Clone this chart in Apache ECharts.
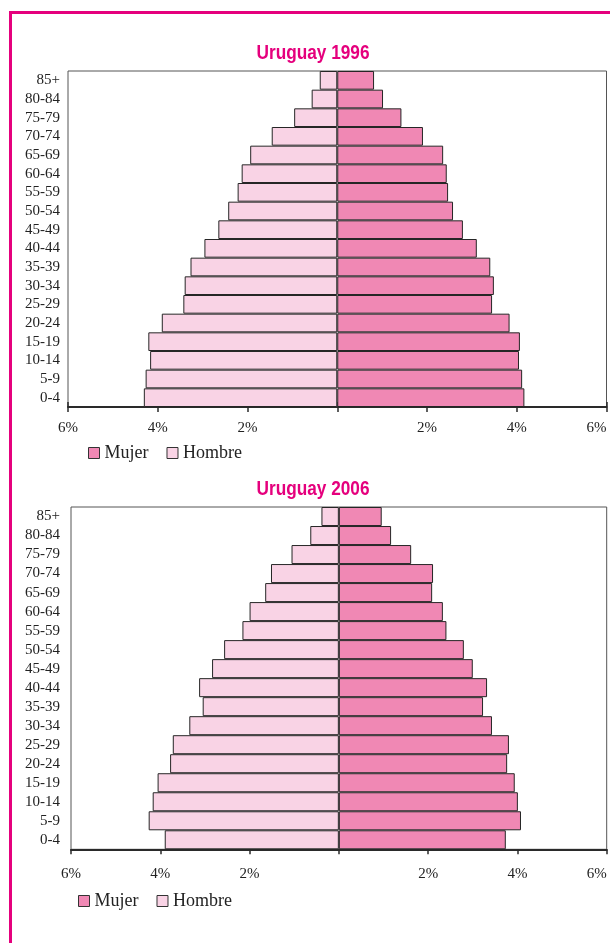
<!DOCTYPE html>
<html>
<head>
<meta charset="utf-8">
<script src="https://cdn.jsdelivr.net/npm/echarts@6/dist/echarts.min.js"></script>
<style>
html,body{margin:0;padding:0;background:#fff;}
#chart{width:610px;height:943px;}
</style>
</head>
<body>
<div id="chart"></div>
<script>
const categories = ['0-4','5-9','10-14','15-19','20-24','25-29','30-34','35-39','40-44','45-49','50-54','55-59','60-64','65-69','70-74','75-79','80-84','85+'];
const hombre1996 = [4.31,4.27,4.17,4.21,3.91,3.43,3.40,3.27,2.96,2.65,2.43,2.22,2.13,1.94,1.46,0.96,0.57,0.39];
const mujer1996  = [4.17,4.12,4.05,4.07,3.84,3.45,3.49,3.41,3.11,2.80,2.58,2.47,2.44,2.36,1.91,1.43,1.02,0.82];
const hombre2006 = [3.90,4.26,4.17,4.06,3.78,3.72,3.35,3.05,3.13,2.84,2.57,2.16,2.00,1.65,1.52,1.06,0.64,0.39];
const mujer2006  = [3.74,4.08,4.01,3.94,3.77,3.81,3.43,3.23,3.32,3.00,2.80,2.41,2.33,2.09,2.11,1.62,1.17,0.96];
const titles = ['Uruguay 1996','Uruguay 2006'];
const seriesNames = ['Mujer','Hombre'];

const MUJER = '#F088B4', HOMBRE = '#F9D3E5', EDGE = '#262626', MAGENTA = '#E5007D';
const serif = '"Liberation Serif", "DejaVu Serif", serif';
const titleFont = 'bold 21px "Liberation Sans", Arial, sans-serif';

function pctFmt(v){ return v === 0 ? '' : Math.abs(v) + '%'; }

function xAxisMain(grid, margin){
  return {type:'value', gridIndex:grid, position:'bottom', min:-6, max:6, interval:2,
    axisLine:{show:true, lineStyle:{color:'#2a2a2a', width:2}},
    axisTick:{show:true, inside:false, length:5, lineStyle:{color:'#2a2a2a', width:1.5}},
    axisLabel:{formatter:pctFmt, fontFamily:serif, fontSize:15, color:'#222', margin:margin, alignMaxLabel:'right'},
    splitLine:{show:false}};
}
function xAxisInner(grid){
  return {type:'value', gridIndex:grid, position:'bottom', min:-6, max:6, interval:2,
    axisLine:{show:false}, axisLabel:{show:false}, splitLine:{show:false},
    axisTick:{show:true, inside:true, length:5, lineStyle:{color:'#2a2a2a', width:1.5}}};
}
function yAxis(grid, margin){
  return {type:'category', gridIndex:grid, data:categories,
    axisLine:{show:false}, axisTick:{show:false},
    axisLabel:{interval:0, fontFamily:serif, fontSize:15, color:'#222', margin:margin}};
}
function barSeries(name, data, xi, yi, color, neg){
  return {name:name, type:'bar', xAxisIndex:xi, yAxisIndex:yi,
    data: neg ? data.map(v => -v) : data.slice(),
    barWidth:'100%', barGap:'-100%', barCategoryGap:0,
    itemStyle:{color:color, borderColor:EDGE, borderWidth:1}};
}
function legend(left, top){
  return {left:left, top:top, orient:'horizontal', data:seriesNames, icon:'rect',
    itemWidth:11, itemHeight:11, itemGap:18, selectedMode:false,
    itemStyle:{borderColor:'#333', borderWidth:1},
    textStyle:{fontFamily:serif, fontSize:18, color:'#222', lineHeight:18}};
}

const chart = echarts.init(document.getElementById('chart'), null, {renderer:'canvas'});
chart.setOption({
  animation:false,
  backgroundColor:'#fff',
  graphic:[
    {type:'rect', shape:{x:10.5, y:12.5, width:800, height:1100}, style:{fill:null, stroke:MAGENTA, lineWidth:3}, silent:true},
    {type:'text', x:313, y:53, scaleX:0.82, style:{text:titles[0], fill:MAGENTA, align:'center', verticalAlign:'middle', font:titleFont}},
    {type:'text', x:313, y:489, scaleX:0.82, style:{text:titles[1], fill:MAGENTA, align:'center', verticalAlign:'middle', font:titleFont}}
  ],
  grid:[
    {left:68, top:71, width:538.5, height:336, show:true, borderColor:'#555', borderWidth:1, backgroundColor:'#fff'},
    {left:71, top:507, width:535.7, height:342.3, show:true, borderColor:'#555', borderWidth:1, backgroundColor:'#fff'}
  ],
  xAxis:[ xAxisMain(0, 14), xAxisInner(0), xAxisMain(1, 17) ],
  yAxis:[ yAxis(0, 8), yAxis(1, 11) ],
  legend:[ legend(83, 439), legend(73, 887) ],
  series:[
    barSeries(seriesNames[1], hombre1996, 0, 0, HOMBRE, true),
    barSeries(seriesNames[0], mujer1996, 0, 0, MUJER, false),
    barSeries(seriesNames[1], hombre2006, 2, 1, HOMBRE, true),
    barSeries(seriesNames[0], mujer2006, 2, 1, MUJER, false)
  ]
});
</script>
</body>
</html>
